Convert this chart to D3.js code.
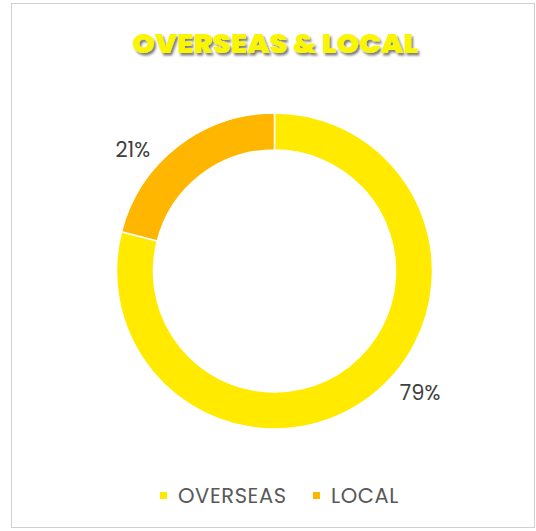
<!DOCTYPE html>
<html>
<head>
<meta charset="utf-8">
<script src="https://cdn.jsdelivr.net/npm/d3@7.9.0/dist/d3.min.js"></script>
<style>
  html, body { margin: 0; padding: 0; background: #fff; }
  svg { display: block; }
</style>
</head>
<body>
<div id="chart"></div>
<script>
// Chart data
const categories = ['OVERSEAS', 'LOCAL'];
const shares = [0.79, 0.21];
const colors = ['#FFEA00', '#FFB600'];
const title = 'OVERSEAS & LOCAL';

const width = 536;
const height = 531;

const svg = d3.select('#chart')
    .append('svg')
    .attr('width', width)
    .attr('height', height);

// Frame
svg.append('rect')
    .attr('x', 11.5)
    .attr('y', 3.5)
    .attr('width', 523)
    .attr('height', 524)
    .attr('fill', '#fff')
    .attr('stroke', '#d0d0d0')
    .attr('stroke-width', 1);

// Title with drop shadow
const defs = svg.append('defs');
const shadow = defs.append('filter')
    .attr('id', 'shadow')
    .attr('x', '-10%').attr('y', '-30%')
    .attr('width', '120%').attr('height', '160%');
shadow.append('feDropShadow')
    .attr('dx', 2).attr('dy', 2.5)
    .attr('stdDeviation', 1.2)
    .attr('flood-color', '#000')
    .attr('flood-opacity', 0.5);

svg.append('text')
    .attr('x', 275)
    .attr('y', 53)
    .attr('text-anchor', 'middle')
    .attr('font-family', 'Poppins, DejaVu Sans, sans-serif')
    .attr('font-weight', 900)
    .attr('font-size', 26)
    .attr('textLength', 286)
    .attr('lengthAdjust', 'spacingAndGlyphs')
    .attr('fill', '#FAF500')
    .attr('filter', 'url(#shadow)')
    .text(title);

// Doughnut
const cx = 274.5, cy = 271;
const outerR = 158, innerR = 121;

const data = categories.map((c, i) => ({ name: c, value: shares[i], color: colors[i] }));

// OVERSEAS clockwise from 12 o'clock, LOCAL fills the rest
const pie = d3.pie()
    .value(d => d.value)
    .sort(null);

const arcs = pie(data);

const arc = d3.arc()
    .innerRadius(innerR)
    .outerRadius(outerR);

const g = svg.append('g')
    .attr('transform', `translate(${cx},${cy})`);

g.selectAll('path')
    .data(arcs)
    .join('path')
    .attr('d', arc)
    .attr('fill', d => d.data.color)
    .attr('stroke', '#fff')
    .attr('stroke-width', 1.5);

// Data labels just outside the ring
const labelR = 188;
const labelShift = -12 * Math.PI / 180;
const pct = d3.format('.0%');

g.selectAll('text.label')
    .data(arcs)
    .join('text')
    .attr('class', 'label')
    .attr('x', d => Math.sin((d.startAngle + d.endAngle) / 2 + labelShift) * labelR + 2)
    .attr('y', d => -Math.cos((d.startAngle + d.endAngle) / 2 + labelShift) * labelR)
    .attr('dy', '0.35em')
    .attr('text-anchor', 'middle')
    .attr('font-family', 'Poppins, Lato, sans-serif')
    .attr('font-size', 21)
    .attr('fill', '#404040')
    .text(d => pct(d.data.value));

// Legend
const legend = svg.append('g')
    .attr('transform', 'translate(160, 496)');

const legendX = d3.scalePoint()
    .domain(categories)
    .range([0, 153]);

const item = legend.selectAll('g')
    .data(data)
    .join('g')
    .attr('transform', d => `translate(${legendX(d.name)},0)`);

item.append('rect')
    .attr('x', 0)
    .attr('y', -4)
    .attr('width', 7)
    .attr('height', 7)
    .attr('fill', d => d.color);

item.append('text')
    .attr('x', 18)
    .attr('y', 0)
    .attr('dy', '0.35em')
    .attr('font-family', 'Poppins, Lato, sans-serif')
    .attr('font-size', 21)
    .attr('letter-spacing', 0.6)
    .attr('fill', '#595959')
    .text(d => d.name);
</script>
</body>
</html>
